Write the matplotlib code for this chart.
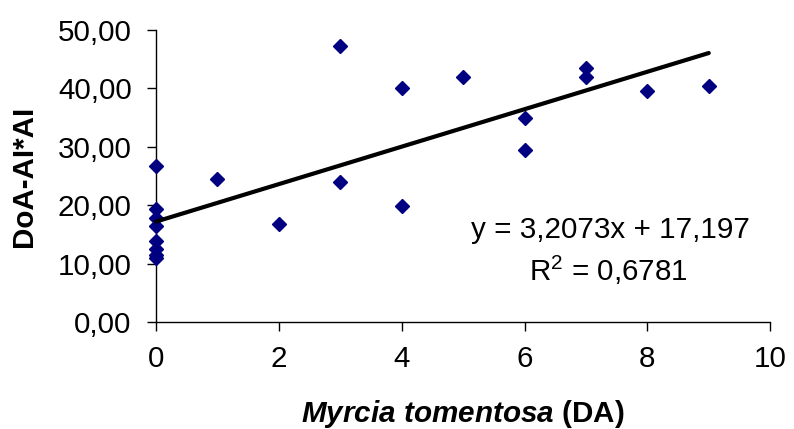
import matplotlib
matplotlib.use("Agg")
import matplotlib.pyplot as plt
from matplotlib.ticker import FuncFormatter

plt.rcParams["font.family"] = ["Liberation Sans", "DejaVu Sans"]
plt.rcParams["mathtext.fontset"] = "custom"
plt.rcParams["mathtext.rm"] = "Liberation Sans"
plt.rcParams["mathtext.it"] = "Liberation Sans:italic:bold"

# abundance of Myrcia tomentosa (DA) vs DoA-AI*AI
da = [0, 0, 0, 0, 0, 0, 0, 0, 1, 2, 3, 3, 4, 4, 5, 6, 6, 7, 7, 8, 9]
doa = [26.7, 19.3, 17.8, 16.5, 13.8, 12.5, 11.5, 11.0, 24.5, 16.7, 47.3, 24.0,
       40.0, 19.8, 42.0, 35.0, 29.5, 43.5, 42.0, 39.5, 40.5]

slope = 3.2073
intercept = 17.197
r2 = 0.6781
trend_x = [0, 9]

x_ticks = [0, 2, 4, 6, 8, 10]
y_ticks = [0, 10, 20, 30, 40, 50]

FS = 21.3


def comma(v, pos=None):
    return ("%.2f" % v).replace(".", ",")


fig = plt.figure(figsize=(7.94, 4.29), dpi=100)
ax = fig.add_axes([0.1965, 0.2494, 0.7735, 0.6806])

ax.plot(da, doa, linestyle="none", marker="D", markersize=7.6,
        color="#000080", zorder=3, clip_on=False)
ax.plot(trend_x, [slope * v + intercept for v in trend_x],
        color="black", linewidth=3, zorder=4, solid_capstyle="round",
        clip_on=False)

ax.set_xlim(0, 10)
ax.set_ylim(0, 50)
ax.set_xticks(x_ticks)
ax.set_yticks(y_ticks)
ax.yaxis.set_major_formatter(FuncFormatter(comma))
ax.spines["top"].set_visible(False)
ax.spines["right"].set_visible(False)
for s in ["left", "bottom"]:
    ax.spines[s].set_linewidth(1)
ax.tick_params(axis="both", labelsize=FS, length=6.5, width=1, direction="out")
ax.tick_params(axis="x", pad=10)
ax.tick_params(axis="y", pad=11)

ax.set_ylabel("DoA-AI*AI", fontsize=FS, fontweight="bold", labelpad=14)
ax.set_xlabel(r"$\mathit{Myrcia\ tomentosa}$ (DA)", fontsize=FS,
              fontweight="bold", labelpad=18)

eq = "y = " + ("%.4f" % slope).replace(".", ",") + "x + " + \
     ("%.3f" % intercept).replace(".", ",")
ax.text(7.4, 15.8, eq, fontsize=FS, ha="center", va="center")
ax.text(7.37, 8.8, r"R$^2$ = " + ("%.4f" % r2).replace(".", ","),
        fontsize=FS, ha="center", va="center")

fig.savefig("out.png", dpi=100)
